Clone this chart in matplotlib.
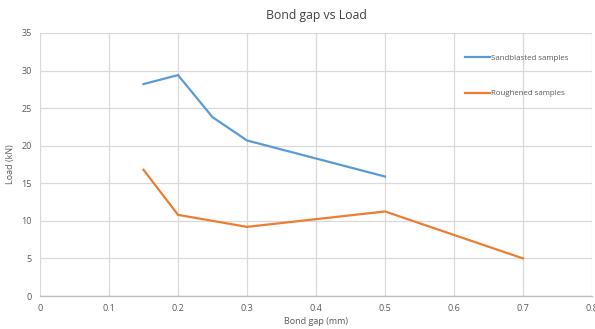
import matplotlib.pyplot as plt

# bond gap (mm) vs failure load (kN)
gap_sand = [0.15, 0.2, 0.25, 0.3, 0.5]
load_sand = [28.2, 29.4, 23.8, 20.7, 15.9]

gap_rough = [0.15, 0.2, 0.3, 0.5, 0.7]
load_rough = [16.8, 10.8, 9.2, 11.25, 5.0]

x_ticks = [0, 0.1, 0.2, 0.3, 0.4, 0.5, 0.6, 0.7, 0.8]
y_ticks = [0, 5, 10, 15, 20, 25, 30, 35]

plt.rcParams['font.family'] = ['Open Sans', 'DejaVu Sans']

fig = plt.figure(figsize=(5.95, 3.29), dpi=100)
ax = fig.add_axes([40 / 595, 33 / 329, 552 / 595, 263 / 329])

ax.plot(gap_sand, load_sand, color='#5b9bd5', lw=1.6, label='Sandblasted samples')
ax.plot(gap_rough, load_rough, color='#ed7d31', lw=1.6, label='Roughened samples')

ax.set_xlim(0, 0.8)
ax.set_ylim(0, 35)
ax.set_xticks(x_ticks)
ax.set_xticklabels([f'{t:g}' for t in x_ticks])
ax.set_yticks(y_ticks)
ax.grid(True, color='#d9d9d9', lw=0.9)
ax.set_axisbelow(True)
for s in ['top', 'right', 'left']:
    ax.spines[s].set_visible(False)
ax.spines['bottom'].set_color('#bfbfbf')
ax.spines['bottom'].set_linewidth(1.0)
ax.tick_params(length=0, labelsize=6.5, colors='#595959', pad=6)

ax.set_title('Bond gap vs Load', fontsize=8.8, color='#404040', pad=10)
ax.set_xlabel('Bond gap (mm)', fontsize=6.5, color='#595959', labelpad=3)
ax.set_ylabel('Load (kN)', fontsize=6.5, color='#595959')
ax.yaxis.set_label_coords(-0.045, 0.5)

leg = ax.legend(loc='upper left', bbox_to_anchor=(0.765, 0.93), frameon=False,
                fontsize=5.7, handlelength=3.1, handletextpad=0.1,
                labelspacing=3.5, borderaxespad=0)
for t in leg.get_texts():
    t.set_color('#595959')

# clipped caption letter at the very top edge
fig.text(0.037, 1.03, 'g', fontsize=14, va='baseline', ha='left', color='black')

fig.savefig('out.png', dpi=100)
